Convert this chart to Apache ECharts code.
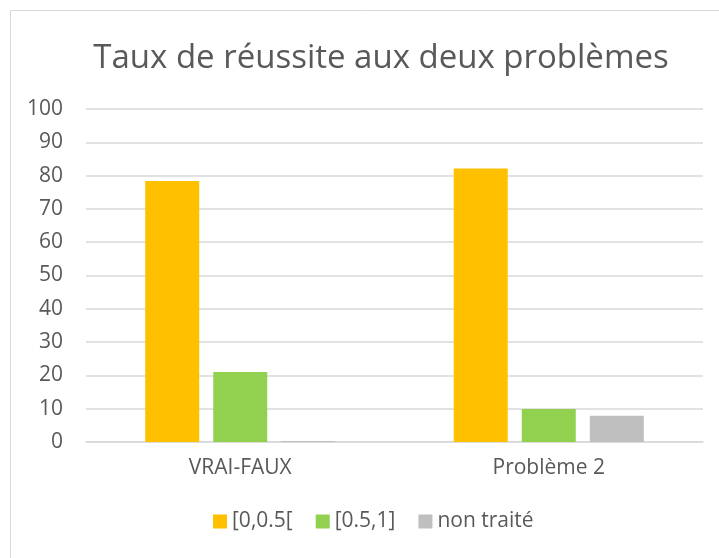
<!DOCTYPE html>
<html>
<head>
<meta charset="utf-8">
<script src="https://cdn.jsdelivr.net/npm/echarts@6/dist/echarts.min.js"></script>
<style>
    html, body { margin: 0; padding: 0; background: #fff; }
    #chart { width: 719px; height: 558px; }
</style>
</head>
<body>
<div id="chart"></div>
<script>
const categories = ['VRAI-FAUX', 'Problème 2'];
const seriesNames = ['[0,0.5[', '[0.5,1]', 'non traité'];
const lowScores = [78.4, 82.1];
const highScores = [21.0, 9.9];
const untreated = [0.3, 7.9];
const yTicks = { min: 0, max: 100, interval: 10 };

const colors = ['#FFC000', '#92D050', '#BFBFBF'];
const textColor = '#595959';
const font = 'Open Sans';

const chart = echarts.init(document.getElementById('chart'));
const values = [lowScores, highScores, untreated];

chart.setOption({
    animation: false,
    color: colors,
    graphic: [{
        type: 'rect',
        shape: { x: 10.5, y: 10.5, width: 740, height: 600 },
        style: { fill: 'none', stroke: '#D9D9D9', lineWidth: 1 },
        silent: true
    }],
    title: {
        text: 'Taux de réussite aux deux problèmes',
        left: 376,
        top: 37,
        textAlign: 'center',
        textStyle: { fontFamily: font, fontSize: 33, fontWeight: 'normal', color: textColor }
    },
    legend: {
        bottom: 21,
        left: 208,
        itemWidth: 14,
        itemHeight: 14,
        itemGap: 23,
        icon: 'rect',
        textStyle: { fontFamily: font, fontSize: 21, color: textColor },
        data: seriesNames
    },
    grid: { left: 86, right: 16, top: 109, bottom: 116, containLabel: false },
    xAxis: {
        type: 'category',
        data: categories,
        axisLine: { lineStyle: { color: '#D9D9D9', width: 1.5 } },
        axisTick: { show: false },
        axisLabel: { fontFamily: font, fontSize: 21, color: textColor, margin: 16 }
    },
    yAxis: {
        type: 'value',
        min: yTicks.min,
        max: yTicks.max,
        interval: yTicks.interval,
        axisLine: { show: false },
        axisTick: { show: false },
        splitLine: { lineStyle: { color: '#D9D9D9', width: 1.5 } },
        axisLabel: { fontFamily: font, fontSize: 21, color: textColor, margin: 23 }
    },
    series: seriesNames.map((name, i) => ({
        name: name,
        type: 'bar',
        data: values[i],
        barWidth: 54,
        barGap: '26%',
        itemStyle: { color: colors[i] }
    }))
});
</script>
</body>
</html>
